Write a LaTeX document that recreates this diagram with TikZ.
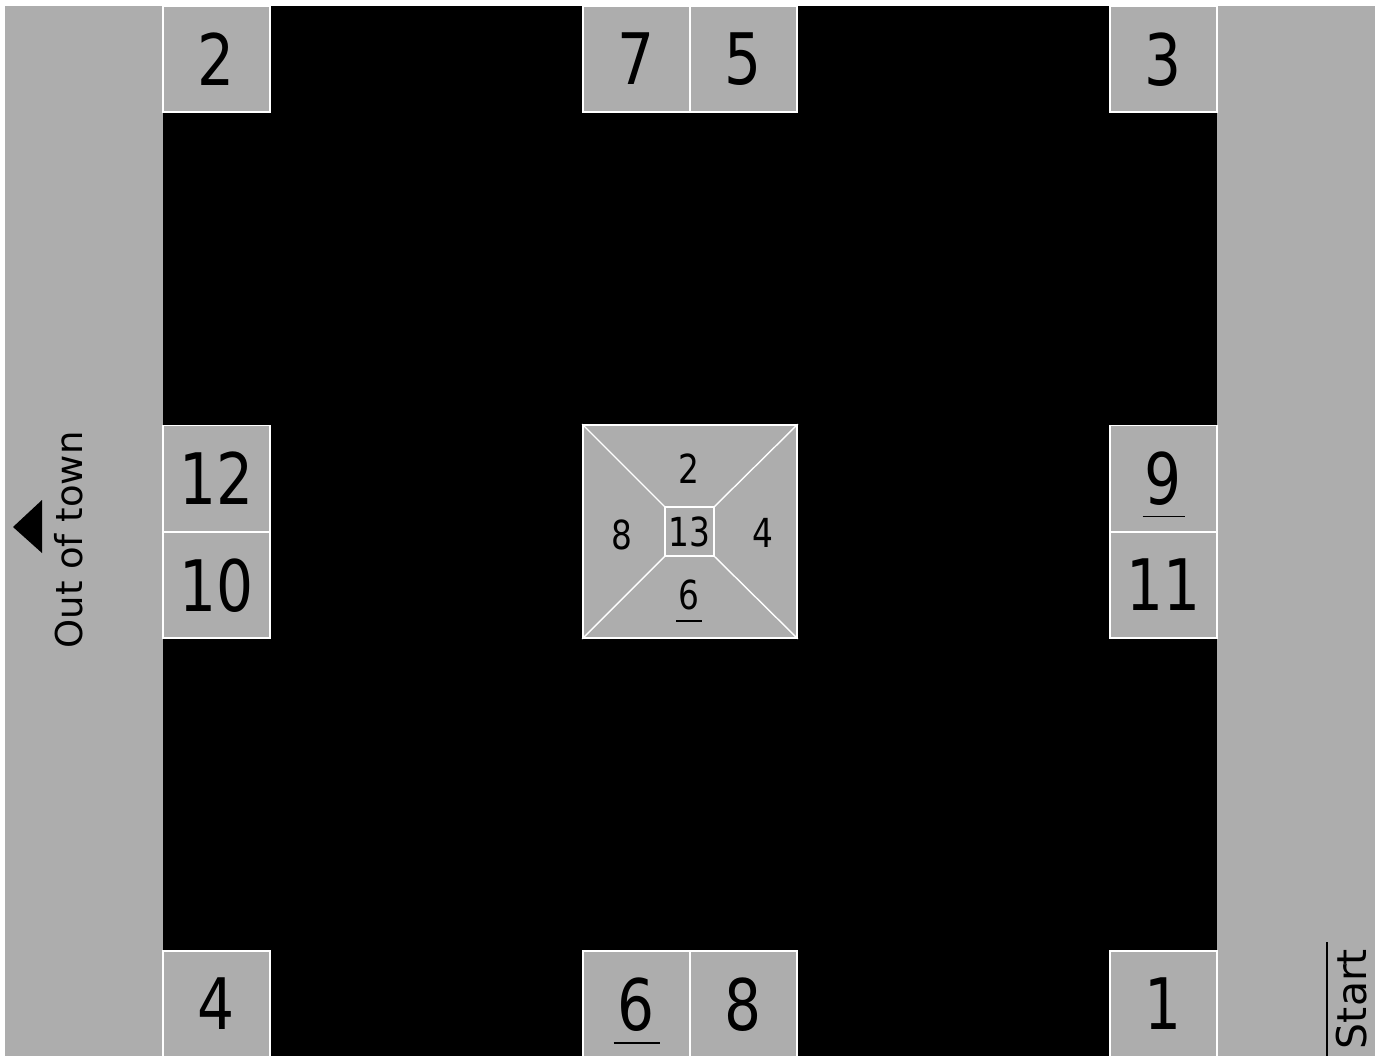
\documentclass[tikz,border=0pt]{standalone}
\usepackage{fontspec}
\setmainfont[FakeStretch=0.82]{DejaVu Sans}
\newfontfamily\labelfont{DejaVu Sans}
\usetikzlibrary{calc}
\definecolor{tilegray}{RGB}{173,173,173}
\tikzset{
  tile/.style={draw=white, line width=1.6pt, fill=tilegray, minimum width=107pt, minimum height=106pt, inner sep=0pt, text depth=0pt, font=\fontsize{71}{71}\selectfont},
  small/.style={inner sep=0pt, text depth=0pt, font=\fontsize{40}{40}\selectfont},
  uline/.style={line width=1.5pt},
  diag/.style={draw=white, line width=1.4pt},
  sidetext/.style={rotate=90, inner sep=0pt, font=\labelfont\fontsize{37}{37}\selectfont}
}
\begin{document}
\begin{tikzpicture}[x=1pt,y=-1pt]
\useasboundingbox (0,0) rectangle (1378,1055);
\clip (0,0) rectangle (1378,1055);
\fill[white] (0,0) rectangle (1378,1055);
\fill[tilegray] (5,6) rectangle (1375,1060);
\fill[black] (163,6) rectangle (1217,1060);

% top row
\node[tile] (b2) at (216.5,59) {2};
\node[tile] (b7) at (636.5,59) {7};
\node[tile] (b5) at (743.5,59) {5};
\node[tile] (b3) at (1163.5,59) {3};
% middle
\node[tile] (b12) at (216.5,478.5) {12};
\node[tile] (b10) at (216.5,585) {10};
\node[tile] (b9) at (1163.5,478.5) {9};
\node[tile] (b11) at (1163.5,585) {11};
% bottom
\node[tile] (b4) at (216.5,1004) {4};
\node[tile] (b6) at (636.5,1004) {6};
\node[tile] (b8) at (743.5,1004) {8};
\node[tile] (b1) at (1163.5,1004) {1};
\draw[uline] ($(b9.center)+(-21,38)$) -- ($(b9.center)+(21,38)$);
\draw[uline] ($(b6.center)+(-23,39)$) -- ($(b6.center)+(23,39)$);

% centre square
\node[draw=white, line width=1.6pt, fill=tilegray, minimum width=214pt, minimum height=213pt, inner sep=0pt] (sq) at (690,531.5) {};
\node[draw=white, line width=1.4pt, minimum width=49pt, minimum height=49pt, inner sep=0pt] (in) at (689.5,531.5) {};
\draw[diag] (sq.north west) -- (in.north west);
\draw[diag] (sq.north east) -- (in.north east);
\draw[diag] (sq.south west) -- (in.south west);
\draw[diag] (sq.south east) -- (in.south east);
\node[small] (c13) at (689.5,532) {13};
\node[small] (c2) at (689,469) {2};
\node[small] (c8) at (622,535) {8};
\node[small] (c4) at (763,533) {4};
\node[small] (c6) at (689,595) {6};
\draw[uline] ($(c6.center)+(-13,26)$) -- ($(c6.center)+(13,26)$);

% out of town
\fill[black] (13,527) -- (42,500) -- (42,553) -- cycle;
\node[sidetext] (out) at (69,540) {Out of town};

% start
\node[sidetext, font=\labelfont\fontsize{41}{41}\selectfont] (start) at (1352,999) {Start};
\draw[uline] ($(start.center)+(-25,-57)$) -- ($(start.center)+(-25,62)$);
\end{tikzpicture}
\end{document}
